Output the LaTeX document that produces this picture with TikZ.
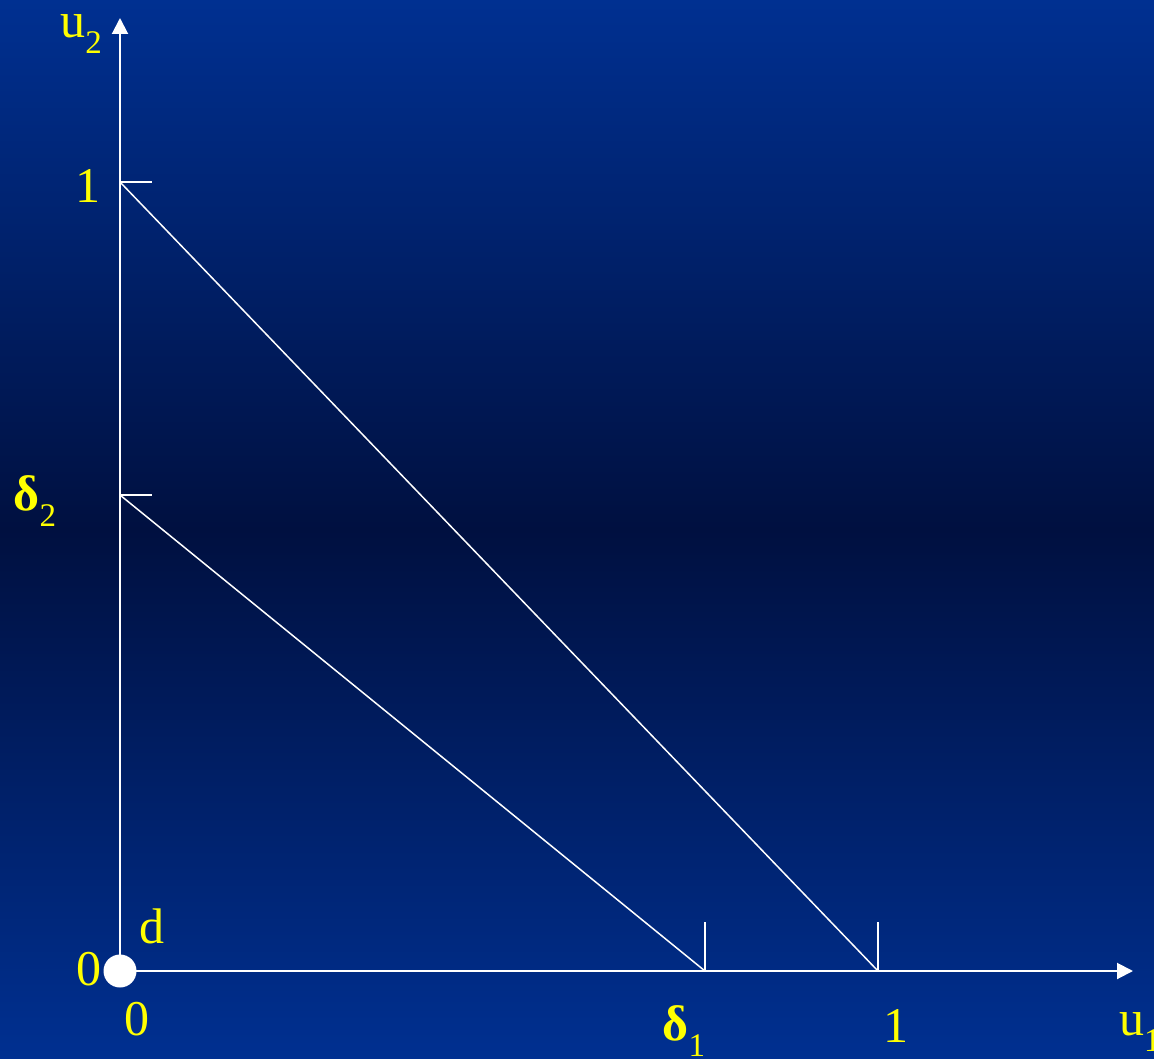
\documentclass[tikz,border=0pt]{standalone}
\usepackage{fontspec}
\setmainfont{Liberation Serif}
\usetikzlibrary{arrows.meta}
\definecolor{bgtop}{RGB}{0,48,145}
\definecolor{bgmid}{RGB}{0,16,64}
\definecolor{lbl}{RGB}{255,255,0}
\newcommand{\sbs}[1]{\raisebox{-0.32em}{\fontsize{33}{33}\selectfont #1}}
\begin{document}
\begin{tikzpicture}[x=1pt,y=-1pt,
  lab/.style={text=lbl,font=\fontsize{50}{50}\selectfont,inner sep=0pt,anchor=base},
  axis/.style={draw=white,line width=2pt,-{Triangle[length=16pt,width=16pt]}},
  tick/.style={draw=white,line width=2pt},
  budget/.style={draw=white,line width=1.5pt}]
\useasboundingbox (0,0) rectangle (1154,1059);
\shade[top color=bgtop,bottom color=bgtop,middle color=bgmid] (0,0) rectangle (1154,1059);
\coordinate (O) at (120,971);
\coordinate (Ytop) at (120,18);
\coordinate (Xend) at (1133,971);
\coordinate (Y1) at (120,182);
\coordinate (D2) at (120,495);
\coordinate (X1) at (878,971);
\coordinate (D1) at (705,971);
\coordinate (Y1t) at (152,182);
\coordinate (D2t) at (152,495);
\coordinate (X1t) at (878,922);
\coordinate (D1t) at (705,922);
\draw[axis] (O) -- (Ytop);
\draw[axis] (O) -- (Xend);
\draw[tick] (Y1) -- (Y1t);
\draw[tick] (D2) -- (D2t);
\draw[tick] (X1) -- (X1t);
\draw[tick] (D1) -- (D1t);
\draw[budget] (Y1) -- (X1);
\draw[budget] (D2) -- (D1);
\fill[white] (O) circle (16.5pt);
\node[lab] (u2) at (81,38) {u\sbs{2}};
\node[lab] (l1y) at (88,203) {1};
\node[lab] (d2) at (35,510) {\bfseries δ\sbs{\mdseries 2}};
\node[lab] (l0y) at (89,985) {0};
\node[lab] (ld) at (152,943) {d};
\node[lab] (l0x) at (137,1035) {0};
\node[lab] (d1) at (684,1040) {\bfseries δ\sbs{\mdseries 1}};
\node[lab] (l1x) at (896,1042) {1};
\node[lab,anchor=base west] (u1) at (1119,1035) {u\sbs{1}};
\end{tikzpicture}
\end{document}
